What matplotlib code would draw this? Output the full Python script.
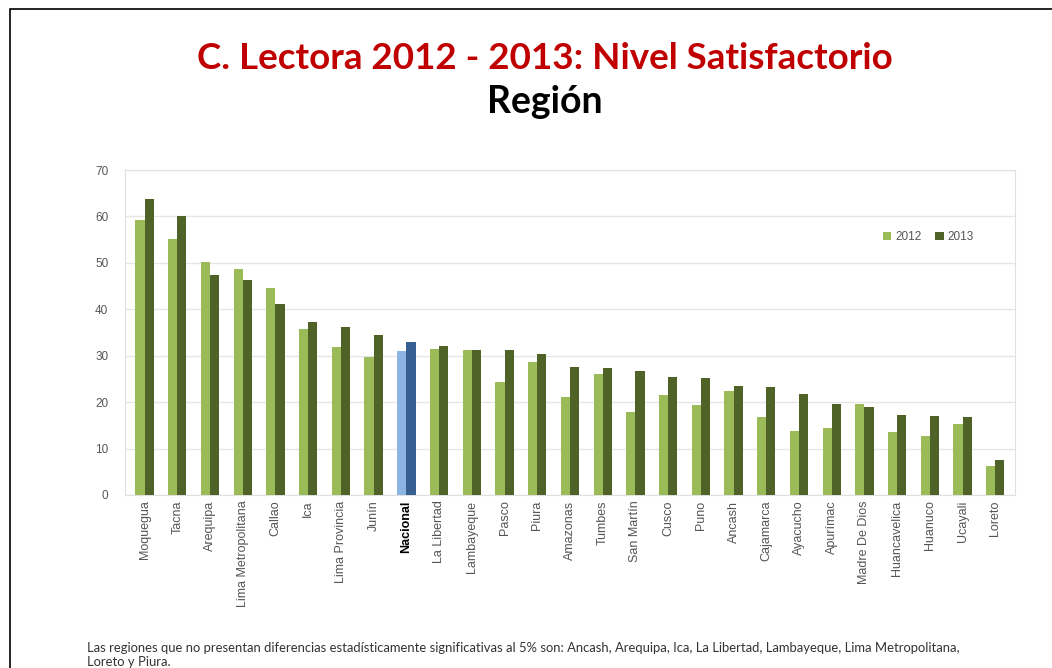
import matplotlib
matplotlib.use("Agg")
import matplotlib.pyplot as plt
import numpy as np
from matplotlib.patches import Rectangle

# data
regiones = ["Moquegua", "Tacna", "Arequipa", "Lima Metropolitana", "Callao", "Ica",
            "Lima Provincia", "Junín", "Nacional", "La Libertad", "Lambayeque", "Pasco",
            "Piura", "Amazonas", "Tumbes", "San Martín", "Cusco", "Puno", "Ancash",
            "Cajamarca", "Ayacucho", "Apurímac", "Madre De Dios", "Huancavelica",
            "Huanuco", "Ucayali", "Loreto"]
v2012 = [59.2, 55.1, 50.2, 48.7, 44.6, 35.7, 31.9, 29.7, 31.0, 31.4, 31.3, 24.4,
         28.7, 21.0, 26.0, 17.9, 21.5, 19.4, 22.3, 16.9, 13.7, 14.4, 19.5, 13.6,
         12.8, 15.2, 6.2]
v2013 = [63.7, 60.1, 47.4, 46.3, 41.1, 37.3, 36.2, 34.5, 33.0, 32.0, 31.3, 31.2,
         30.4, 27.5, 27.3, 26.6, 25.4, 25.2, 23.5, 23.3, 21.7, 19.6, 18.9, 17.3,
         17.0, 16.8, 7.5]
anios = ["2012", "2013"]

#colors
c12, c13 = "#9BBB59", "#4F6228"
n12, n13 = "#8DB4E2", "#376092"

fig = plt.figure(figsize=(10.52, 6.68), dpi=100)
fig.patches.append(Rectangle((0.0095, -0.01), 1.0, 0.996, transform=fig.transFigure,
                             fill=False, edgecolor="black", linewidth=1.2))

ax = fig.add_axes([0.1188, 0.259, 0.846, 0.4865])
x = np.arange(len(regiones))
w = 0.28
cols12 = [n12 if r == "Nacional" else c12 for r in regiones]
cols13 = [n13 if r == "Nacional" else c13 for r in regiones]
b1 = ax.bar(x - w / 2, v2012, w, color=cols12, label=anios[0], zorder=3)
b2 = ax.bar(x + w / 2, v2013, w, color=cols13, label=anios[1], zorder=3)

ax.set_ylim(0, 70)
ax.set_xlim(-0.6, len(regiones) - 0.4)
ax.set_yticks(range(0, 71, 10))
ax.grid(axis="y", color="#E6E6E6", linewidth=1, zorder=0)
for s in ax.spines.values():
    s.set_color("#E0E0E0")
ax.tick_params(axis="y", length=0, labelsize=8.5, labelcolor="#555555", pad=12)
ax.tick_params(axis="x", length=0, pad=4)
ax.set_xticks(x)
ax.set_xticklabels(regiones, rotation=90, fontsize=9, color="#555555",
                   family="Liberation Sans")
for lbl in ax.get_xticklabels():
    if lbl.get_text() == "Nacional":
        lbl.set_fontweight("bold")
        lbl.set_color("black")
for lbl in ax.get_yticklabels():
    lbl.set_family("Liberation Sans")

leg = ax.legend(handles=[b1[0], b2[0]], labels=anios, ncol=2, frameon=False,
                loc="upper left", bbox_to_anchor=(0.84, 0.845),
                handlelength=0.7, handleheight=0.7, columnspacing=1.2,
                handletextpad=0.3, prop={"family": "Liberation Sans", "size": 8.5})
for t in leg.get_texts():
    t.set_color("#555555")

fig.text(0.518, 0.913, "C. Lectora 2012 - 2013: Nivel Satisfactorio", ha="center",
         va="center", color="#C00000", fontsize=26.5, fontweight="bold", family="Lato")
fig.text(0.518, 0.847, "Región", ha="center", va="center", color="black",
         fontsize=27, fontweight="bold", family="Lato")

# footnote, two lines placed separately
fig.text(0.083, 1 - 648 / 668, "Las regiones que no presentan diferencias estadísticamente "
         "significativas al 5% son: Ancash, Arequipa, Ica, La Libertad, Lambayeque, "
         "Lima Metropolitana,", ha="left", va="center", fontsize=9.4,
         family="Lato", color="#333333")
fig.text(0.083, 1 - 662 / 668, "Loreto y Piura.", ha="left", va="center", fontsize=9.4,
         family="Lato", color="#333333")

plt.savefig("out.png", dpi=100)
